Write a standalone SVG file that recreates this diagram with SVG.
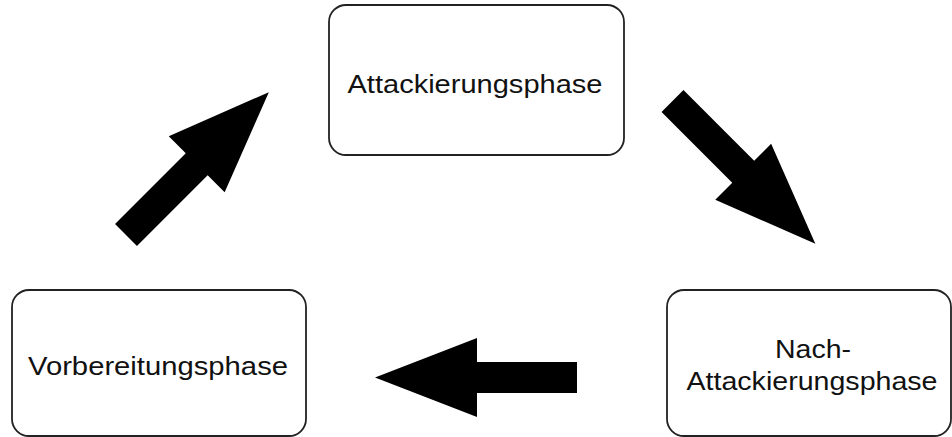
<svg xmlns="http://www.w3.org/2000/svg" xmlns:xlink="http://www.w3.org/1999/xlink" width="952" height="437" viewBox="0 0 952 437">
<style>
.box{fill:#fff;stroke:#222;stroke-width:1.8}
.lbl{font-family:"Liberation Sans",Arial,sans-serif;font-size:25px;fill:#111;text-anchor:middle}
.arrow{fill:#000}
</style>
<defs>
<polygon id="bigArrow" points="0,-15.5 100,-15.5 100,-39.5 202,0 100,39.5 100,15.5 0,15.5"/>
</defs>
<rect width="952" height="437" fill="#fff"/>
<g id="node-attack">
<rect class="box" x="329" y="5" width="295" height="150" rx="17"/>
<text class="lbl" x="475" y="93" textLength="255" lengthAdjust="spacingAndGlyphs">Attackierungsphase</text>
</g>
<g id="node-vorbereitung">
<rect class="box" x="12" y="290" width="294" height="146" rx="17"/>
<text class="lbl" x="158" y="375" textLength="260" lengthAdjust="spacingAndGlyphs">Vorbereitungsphase</text>
</g>
<g id="node-nach">
<rect class="box" x="667" y="290" width="284" height="146" rx="17"/>
<text class="lbl" x="813" y="358" textLength="76" lengthAdjust="spacingAndGlyphs">Nach-</text>
<text class="lbl" x="812" y="390" textLength="251" lengthAdjust="spacingAndGlyphs">Attackierungsphase</text>
</g>
<g id="connectors" class="arrow">
<use xlink:href="#bigArrow" transform="translate(126,235) rotate(-45)"/>
<use xlink:href="#bigArrow" transform="translate(672.5,101) rotate(45)"/>
<use xlink:href="#bigArrow" transform="translate(577,377.5) rotate(180)"/>
</g>
</svg>
